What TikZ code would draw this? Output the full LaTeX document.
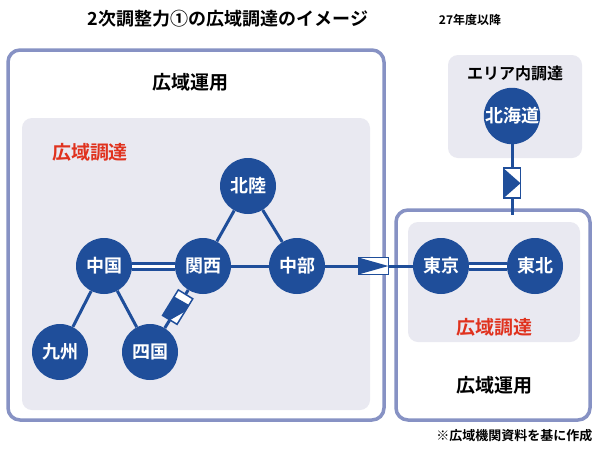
\documentclass[tikz,border=0pt]{standalone}
\usepackage{fontspec}
\setmainfont{Noto Sans CJK JP}[BoldFont={Noto Sans CJK JP Bold}]
\definecolor{jblue}{HTML}{1F4E9A}
\definecolor{frame}{HTML}{8792C4}
\definecolor{pane}{HTML}{E9E9F1}
\definecolor{jred}{HTML}{E0321E}
\begin{document}
\begin{tikzpicture}[x=1pt,y=-1pt,
  area/.style={draw=frame, line width=3.5pt, rounded corners=12pt},
  pane/.style={fill=pane, rounded corners=10pt},
  pref/.style={circle, fill=jblue, text=white, minimum size=56pt, inner sep=0pt, font=\bfseries\fontsize{18}{18}\selectfont},
  link/.style={draw=jblue, line width=3pt},
  twin/.style={draw=jblue, line width=3pt, double=white, double distance=3pt},
  head/.style={font=\bfseries\fontsize{19}{19}\selectfont},
  redhead/.style={text=jred, font=\bfseries\fontsize{19}{19}\selectfont},
  conv/.style={draw=jblue, fill=white, line width=1.5pt, minimum width=30pt, minimum height=17pt,
    inner sep=0pt, sloped, allow upside down,
    path picture={\fill[jblue] (path picture bounding box.north west) -- (path picture bounding box.east)
      -- (path picture bounding box.south west) -- cycle;}}]
  \useasboundingbox[fill=white] (0,0) rectangle (600,448);

  % title
  \node[font=\bfseries\fontsize{18}{18}\selectfont] (title) at (228,19) {2次調整力①の広域調達のイメージ};
  \node[font=\bfseries\fontsize{12}{12}\selectfont] (year) at (470,20) {27年度以降};

  % left area
  \draw[area] (8,50) rectangle (384,420);
  \node[head] (westop) at (190,82) {広域運用};
  \fill[pane] (22,118) rectangle (370,410);
  \node[redhead] (westproc) at (90,152) {広域調達};

  % right area
  \draw[area] (396,210) rectangle (590,420);
  \fill[pane] (408,222) rectangle (580,342);
  \node[redhead] (eastproc) at (494,327) {広域調達};
  \node[head] (eastop) at (494,385) {広域運用};

  % hokkaido area
  \fill[pane] (448,55) rectangle (582,158);
  \node[font=\bfseries\fontsize{16}{16}\selectfont] (local) at (515,73) {エリア内調達};

  % prefectures
  \node[pref] (hokuriku) at (248,186) {北陸};
  \node[pref] (chugoku) at (104,266) {中国};
  \node[pref] (kansai) at (203,266) {関西};
  \node[pref] (chubu) at (297,266) {中部};
  \node[pref] (kyushu) at (60,352) {九州};
  \node[pref] (shikoku) at (150,352) {四国};
  \node[pref] (tokyo) at (441,266) {東京};
  \node[pref] (tohoku) at (535,266) {東北};
  \node[pref] (hokkaido) at (512,116) {北海道};
  \coordinate (rtop) at (512,215);

  % links
  \draw[twin] (chugoku) -- (kansai);
  \draw[twin] (tokyo) -- (tohoku);
  \draw[link] (kansai) -- (chubu);
  \draw[link] (kansai) -- (hokuriku);
  \draw[link] (hokuriku) -- (chubu);
  \draw[link] (chugoku) -- (kyushu);
  \draw[link] (chugoku) -- (shikoku);
  \draw[link] (kansai) -- node[conv, pos=0.45] (fc1) {} (shikoku);
  \draw[link] (chubu) -- node[conv, pos=0.55] (fc2) {} (tokyo);
  \draw[link] (hokkaido) -- node[conv, pos=0.55] (fc3) {} (rtop);

  \node[font=\bfseries\fontsize{13}{13}\selectfont, anchor=east] (note) at (596,436) {※広域機関資料を基に作成};
\end{tikzpicture}
\end{document}
